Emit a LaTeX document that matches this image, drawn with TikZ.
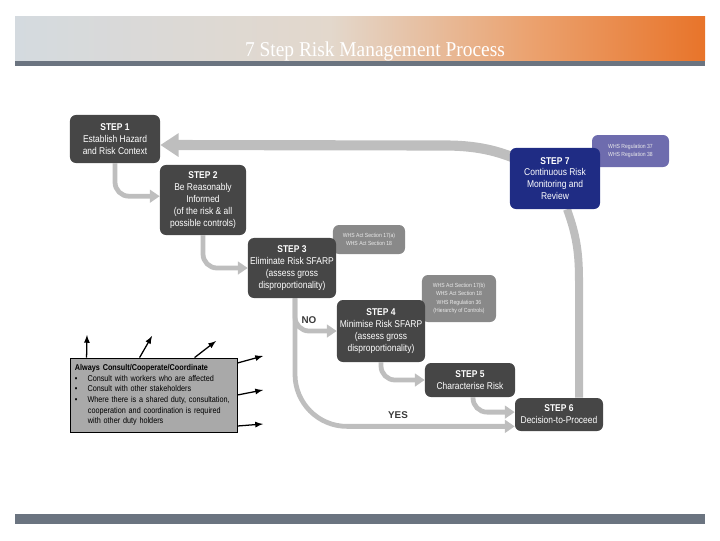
\documentclass[tikz,border=0pt]{standalone}
\usepackage{fontspec}
\setmainfont{Liberation Sans}
\newfontfamily\narrowsf[FakeStretch=0.86]{Liberation Sans}
\newfontfamily\titleserif[FakeStretch=0.92]{Liberation Serif}
\usetikzlibrary{arrows.meta,backgrounds}

\definecolor{stepgray}{HTML}{464646}
\definecolor{navystep}{HTML}{1F2C84}
\definecolor{whsgray}{HTML}{898989}
\definecolor{whspurple}{HTML}{6E6CAE}
\definecolor{consultfill}{HTML}{A9A9A9}
\definecolor{flowgray}{HTML}{BEBEBE}
\definecolor{labelgray}{HTML}{3A3A3A}
\definecolor{bandgray}{HTML}{D4DADF}
\definecolor{bandbeige}{HTML}{E3D8CC}
\definecolor{bandorange}{HTML}{EBA26F}
\definecolor{banddeep}{HTML}{E8742A}
\definecolor{stripe}{HTML}{6B7480}

\tikzset{
  stepbox/.style={fill=stepgray, rounded corners=0.15cm, text=white,
    align=center, inner sep=0pt,
    font=\narrowsf\fontsize{7}{8.4}\selectfont},
  whsbox/.style={fill=whsgray, rounded corners=0.15cm, text=white!92!black,
    align=center, inner sep=0pt,
    font=\narrowsf\fontsize{4.2}{5.9}\selectfont},
  flow/.style={draw=flowgray, line width=3.4pt, rounded corners=0.35cm,
    -{Triangle[width=9pt,length=7pt]}},
  bigflow/.style={draw=flowgray, line width=7.2pt,
    -{Triangle[width=16pt,length=13pt]}},
  answer/.style={font=\bfseries\fontsize{7}{8}\selectfont, text=labelgray}
}

\begin{document}
\begin{tikzpicture}[x=0.025cm,y=-0.025cm]

\useasboundingbox
(0,0)
rectangle
(720,540);

% header band
\shade[left color=bandgray,right color=bandbeige]
(15,16)
rectangle
(330.5,60);

\shade[left color=bandbeige,right color=bandorange]
(330,16)
rectangle
(530.5,60);

\shade[left color=bandorange,right color=banddeep]
(530,16)
rectangle
(705,60);

\fill[stripe]
(15,61)
rectangle
(705,66);

\node[font=\titleserif\fontsize{15}{15}\selectfont, text=white, anchor=base]
(T)
at (375,56)
{7 Step Risk Management Process};

% legislation tags
\node[whsbox, minimum width=1.8cm, minimum height=0.725cm]
(W1)
at (369,239.5)
{WHS Act Section 17(a)\\WHS Act Section 18};

\node[whsbox, minimum width=1.85cm, minimum height=1.175cm]
(W2)
at (459,298.5)
{WHS Act Section 17(b)\\WHS Act Section 18\\WHS Regulation 36\\(Hierarchy of Controls)};

\node[whsbox, fill=whspurple, minimum width=1.925cm, minimum height=0.8cm]
(W3)
at (630.5,151)
{WHS Regulation 37\\WHS Regulation 38};

% steps
\node[stepbox, minimum width=2.25cm, minimum height=1.2cm]
(S1)
at (115,139)
{\textbf{STEP 1}\\Establish Hazard\\and Risk Context};

\node[stepbox, minimum width=2.15cm, minimum height=1.75cm]
(S2)
at (203,200)
{\textbf{STEP 2}\\Be Reasonably\\Informed\\(of the risk \& all\\possible controls)};

\node[stepbox, minimum width=2.2cm, minimum height=1.5cm]
(S3)
at (292,268)
{\textbf{STEP 3}\\Eliminate Risk SFARP\\(assess gross\\disproportionality)};

\node[stepbox, minimum width=2.2cm, minimum height=1.55cm]
(S4)
at (381,331)
{\textbf{STEP 4}\\Minimise Risk SFARP\\(assess gross\\disproportionality)};

\node[stepbox, minimum width=2.25cm, minimum height=0.85cm]
(S5)
at (470,380)
{\textbf{STEP 5}\\Characterise Risk};

\node[stepbox, minimum width=2.2cm, minimum height=0.825cm]
(S6)
at (559,414.5)
{\textbf{STEP 6}\\Decision-to-Proceed};

\node[stepbox, fill=navystep, minimum width=2.25cm, minimum height=1.525cm]
(S7)
at (555,178.5)
{\textbf{STEP 7}\\Continuous Risk\\Monitoring and\\Review};

% consultation box
\node[draw=black, line width=0.6pt, fill=consultfill, minimum width=4.175cm,
  minimum height=1.85cm, text width=3.925cm, align=left, inner sep=0pt,
  font=\narrowsf\fontsize{6}{7.5}\selectfont]
(C)
at (153.5,395)
{\textbf{Always Consult/Cooperate/Coordinate}\\
\textbullet\hspace{0.25cm}Consult with workers who are affected\\
\textbullet\hspace{0.25cm}Consult with other stakeholders\\
\textbullet\hspace{0.25cm}Where there is a shared duty, consultation,\\
\hspace*{0.325cm}cooperation and coordination is required\\
\hspace*{0.325cm}with other duty holders};

\node[answer]
(NO)
at (309,320)
{NO};

\node[answer]
(YES)
at (398,415)
{YES};

% arrow tips round the consultation box
\coordinate (A1) at (87,335);
\coordinate (A2) at (152,336);
\coordinate (A3) at (216,341);
\coordinate (A4) at (263,356);
\coordinate (A5) at (263,390);
\coordinate (A6) at (263,424);

\draw[-latex, line width=0.9pt]
([xshift=0.425cm]C.north west)
--
(A1);

\draw[-latex, line width=0.9pt]
([xshift=1.75cm]C.north west)
--
(A2);

\draw[-latex, line width=0.9pt]
([xshift=3.125cm]C.north west)
--
(A3);

\draw[-latex, line width=0.9pt]
([yshift=0.8cm]C.east)
--
(A4);

\draw[-latex, line width=0.9pt]
(C.east)
--
(A5);

\draw[-latex, line width=0.9pt]
([yshift=-0.775cm]C.east)
--
(A6);

% process flow, behind the boxes
\begin{scope}[on background layer]

\draw[flow]
(S1.south)
|-
(S2.175);

\draw[flow]
(S2.south)
|-
(S3.west);

\draw[flow]
([xshift=0.075cm]S3.south)
|-
(S4.west);

\draw[flow, rounded corners=1.3cm]
([xshift=0.075cm]S3.south)
|-
(S6.195);

\draw[flow]
(S4.south)
|-
(S5.west);

\draw[flow]
([xshift=0.075cm]S5.south)
|-
([yshift=0.06cm]S6.west);

\draw[draw=flowgray, line width=5.7pt]
([xshift=0.5cm]S6.north)
--
++(0,-115)
to[out=90,in=-70]
([xshift=0.3cm]S7.south);

\draw[bigflow]
(S7.center)
to[out=150,in=0]
++(-110,-33)
--
([yshift=-0.15cm]S1.east);

\end{scope}

% footer bar
\fill[stripe]
(15,514)
rectangle
(705,524);

\end{tikzpicture}
\end{document}
